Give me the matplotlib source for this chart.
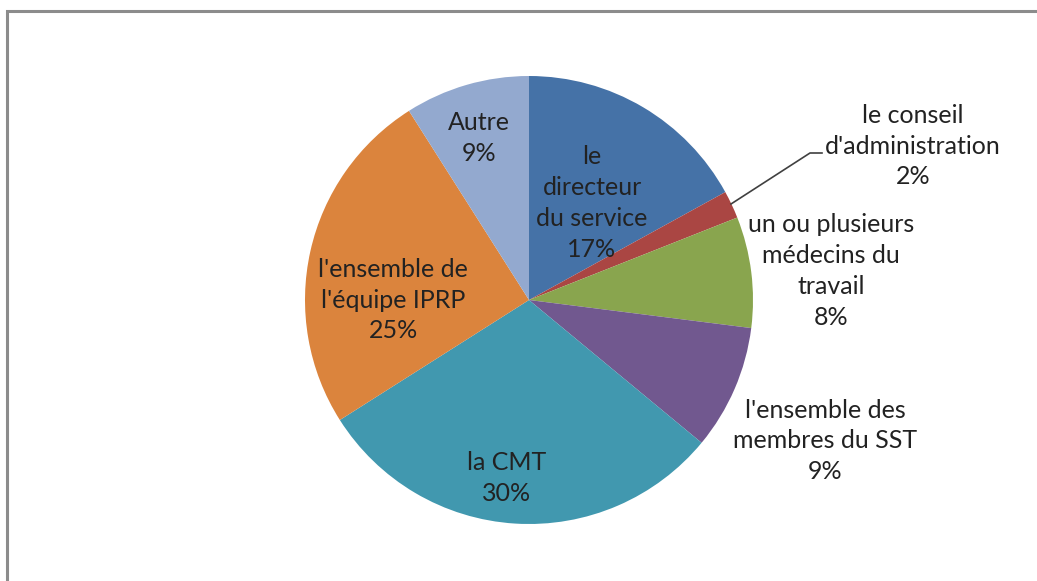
import matplotlib
matplotlib.use("Agg")
import matplotlib.pyplot as plt
from matplotlib.patches import Rectangle

# Répartition des réponses
labels = ["le\ndirecteur\ndu service", "le conseil\nd'administration",
          "un ou plusieurs\nmédecins du\ntravail", "l'ensemble des\nmembres du SST",
          "la CMT", "l'ensemble de\nl'équipe IPRP", "Autre"]
values = [17, 2, 8, 9, 30, 25, 9]
colors = ["#4572A7", "#AA4643", "#89A54E", "#71588F", "#4198AF", "#DB843D", "#93A9CF"]

# label centres in pixels (from top-left)
label_pos = [(592, 203), (913, 146), (831, 271), (825, 441),
             (507, 478), (393, 300), (479, 138)]

W, H = 1037, 581
fig = plt.figure(figsize=(W / 100, H / 100), dpi=100)
ax = fig.add_axes([0, 0, 1, 1])

cx, cy, r = 529, H - 300, 224
wedges, _ = ax.pie(values, colors=colors, startangle=90, counterclock=False,
                   center=(cx, cy), radius=r, wedgeprops=dict(linewidth=0),
                   frame=True)
ax.set_xlim(0, W)
ax.set_ylim(0, H)
ax.set_aspect("equal")
ax.axis("off")

for lab, v, (x, y) in zip(labels, values, label_pos):
    ax.text(x, H - y, f"{lab}\n{v}%", ha="center", va="center", fontsize=18,
            family=["Lato", "DejaVu Sans"], color="#222222", linespacing=1.42)

# leader line for the small slice
ax.plot([731, 810, 822], [H - 204, H - 153, H - 153], color="#404040", lw=1.2)

# chart frame
ax.add_patch(Rectangle((7, -20), W + 20, H - 11 + 20, fill=False,
                       edgecolor="#8c8c8c", lw=2.2, clip_on=False))

fig.savefig("out.png", dpi=100)
